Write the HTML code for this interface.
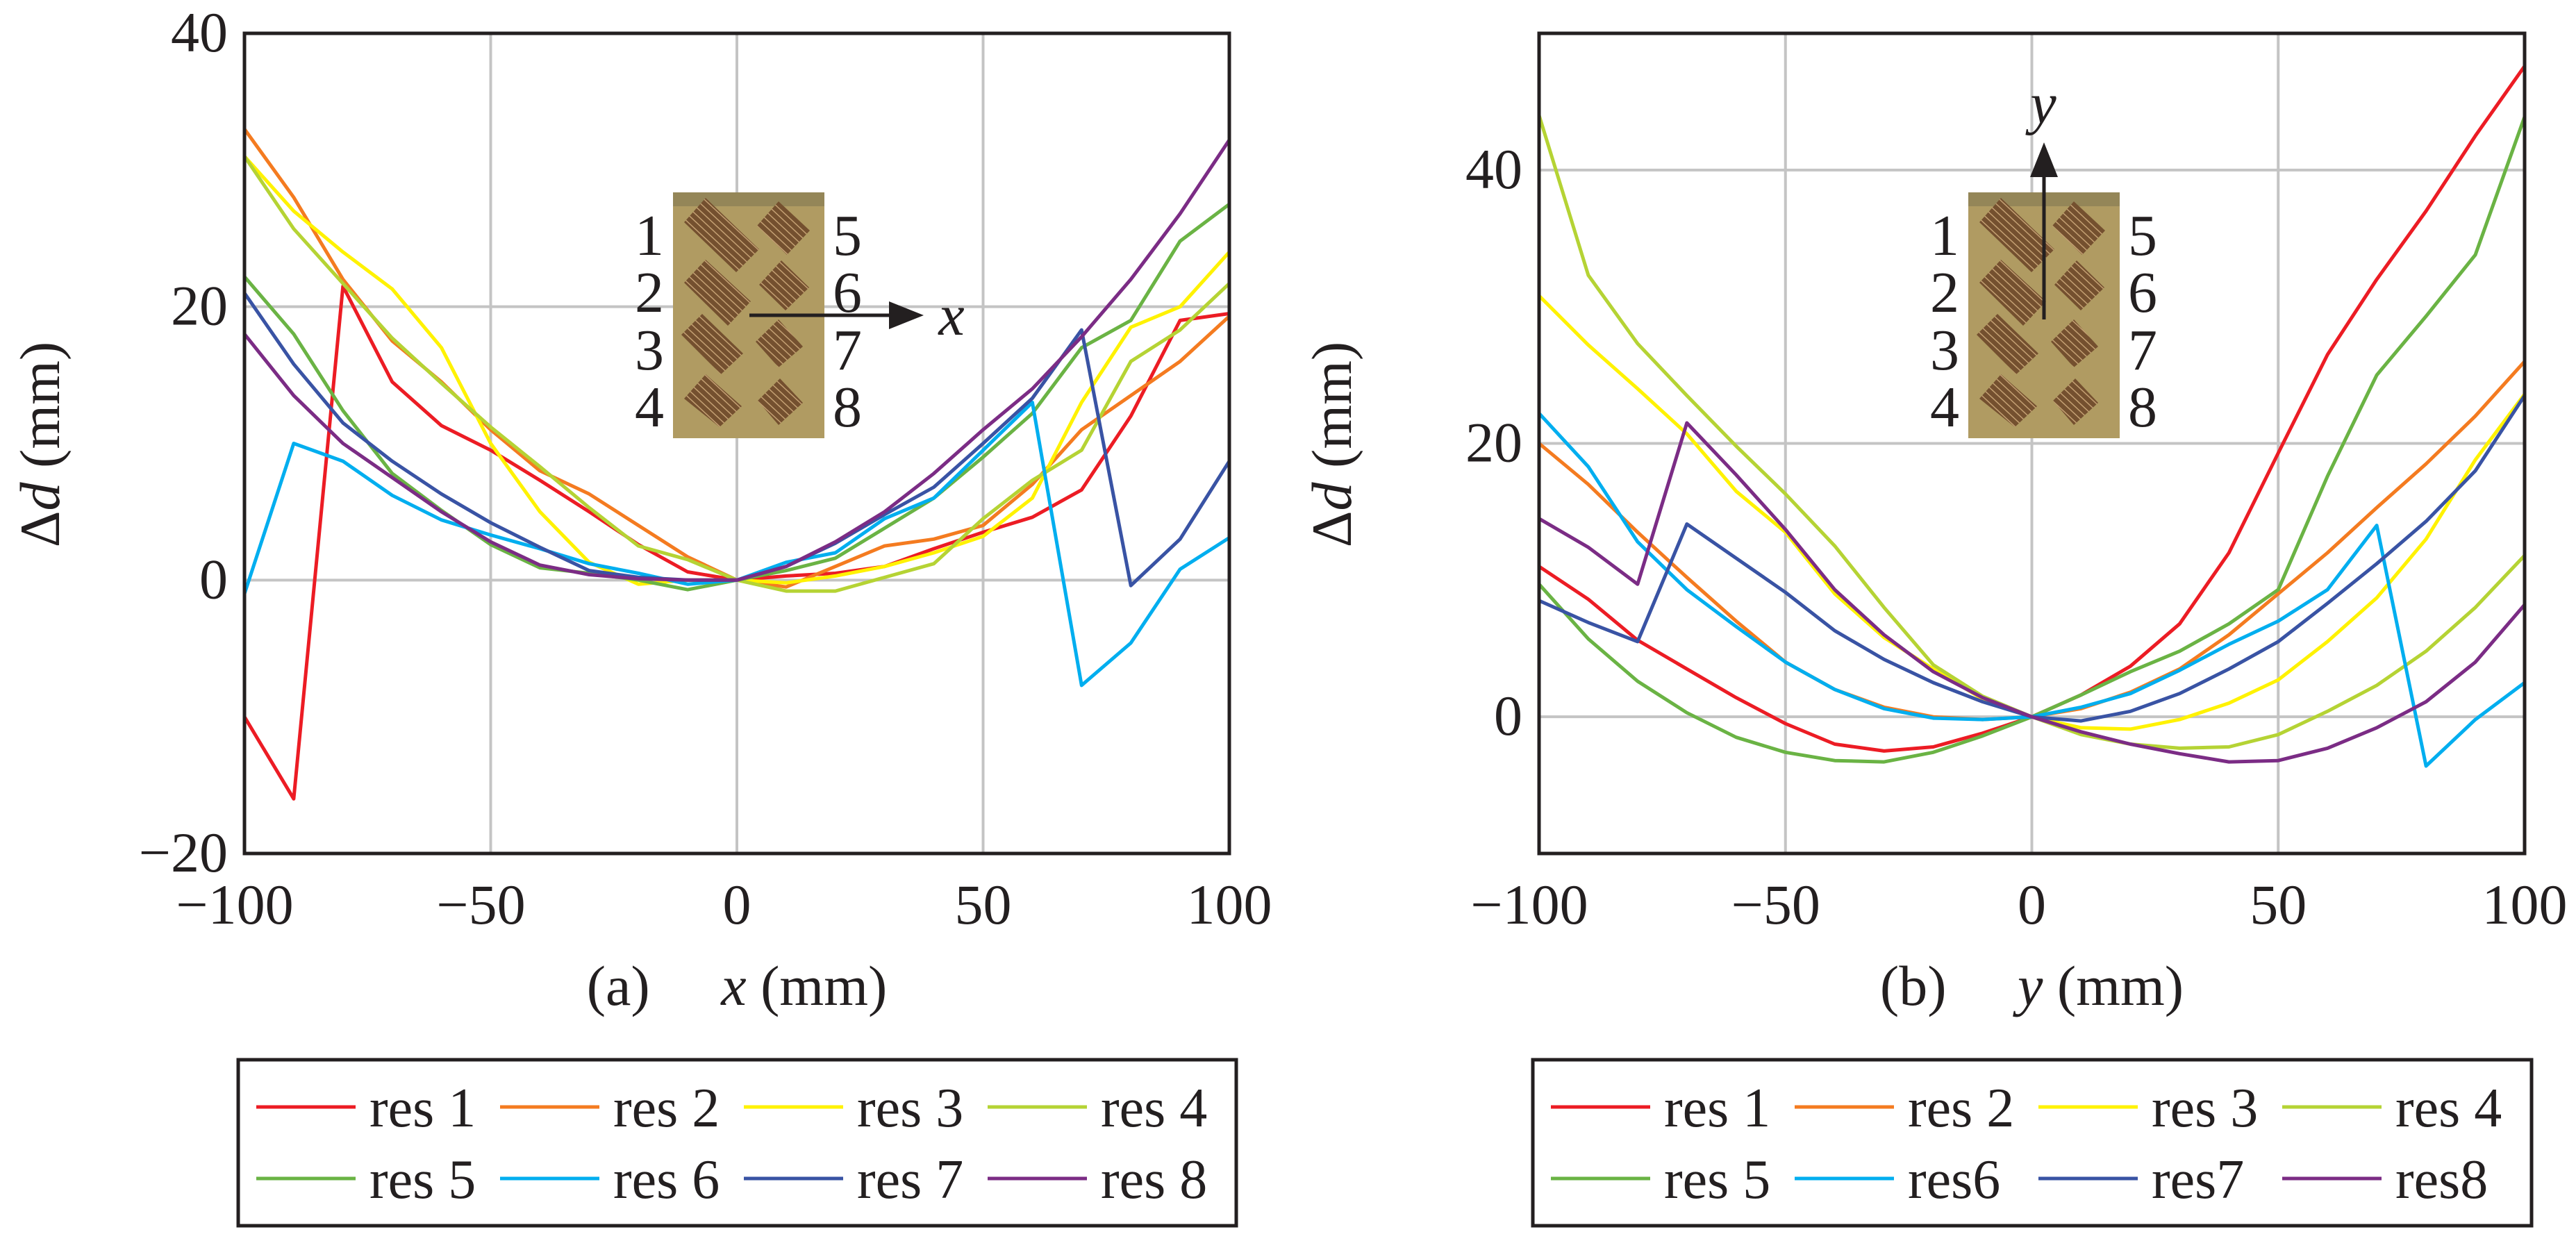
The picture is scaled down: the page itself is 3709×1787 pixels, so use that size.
<!DOCTYPE html>
<html><head><meta charset="utf-8">
<style>
html,body{margin:0;padding:0;background:#fff;}
svg{display:block;font-family:"Liberation Serif","DejaVu Serif",serif;}
svg text{font-family:"Liberation Serif","DejaVu Serif",serif;}
</style></head>
<body>
<svg id="fig" width="3709" height="1787" viewBox="0 0 3709 1787" xmlns="http://www.w3.org/2000/svg">
<defs>
<pattern id="stripes" patternUnits="userSpaceOnUse" width="8" height="8" patternTransform="rotate(43)">
<rect width="8" height="8" fill="#74502f"/>
<rect x="0" y="0" width="8" height="1.4" fill="#c9a577"/>
</pattern>
<marker id="arrowhead" markerWidth="10" markerHeight="8" refX="2" refY="4" orient="auto" markerUnits="strokeWidth"><path d="M0,0 L10,4 L0,8 z" fill="#231f20"/></marker>
</defs>
<g id="root" font-family="Liberation Serif, DejaVu Serif, serif"></g>
</svg>
<script>
const xCats = [-100,-90,-80,-70,-60,-50,-40,-30,-20,-10,0,10,20,30,40,50,60,70,80,90,100];
const seriesNames = ["res 1","res 2","res 3","res 4","res 5","res 6","res 7","res 8"];
const seriesNamesB = ["res 1","res 2","res 3","res 4","res 5","res6","res7","res8"];
const colors = ["#ec1c24","#f47b20","#fff200","#b5d334","#6ab344","#00aeef","#3953a4","#7b2c85"];
const xTicks = [-100,-50,0,50,100];
const yTicksA = [-20,0,20,40];
const yTicksB = [0,20,40];
const a1 = [-10,-16,21.5,14.5,11.3,9.5,7.3,5,2.6,0.6,0,0.3,0.5,1,2.3,3.5,4.6,6.6,12,19,19.5];
const a2 = [33,28,22,17.5,14.5,11,8,6.3,4,1.7,0,-0.5,1,2.5,3,4,7,11,13.5,16,19.3];
const a3 = [31,27,24,21.3,17,10,5,1.3,-0.3,0,0,-0.2,0.3,1,2,3.2,6,13,18.5,20,24];
const a4 = [31,25.7,21.7,17.7,14.4,11.2,8.3,5.3,2.5,1.5,0,-0.8,-0.8,0.2,1.2,4.5,7.3,9.5,16,18.3,21.7];
const a5 = [22.2,18,12.4,7.8,5.1,2.6,0.9,0.5,0,-0.7,0,0.7,1.6,3.8,6,9,12.2,17,19,24.8,27.5];
const a6 = [-1,10,8.7,6.2,4.4,3.3,2.3,1.2,0.5,-0.3,0,1.3,2,4.5,6,9.5,13,-7.7,-4.6,0.8,3.1];
const a7 = [21,15.8,11.5,8.7,6.3,4.2,2.4,0.7,0.2,0,0,1,2.7,4.8,6.8,10,13.3,18.3,-0.4,3,8.7];
const a8 = [18,13.5,10,7.5,5,2.8,1.1,0.4,0.1,0,0,1,2.8,5,7.8,11,14,17.8,22,26.8,32.2];
const b1 = [11,8.6,5.6,3.5,1.4,-0.5,-2,-2.5,-2.2,-1.2,0,1.6,3.7,6.8,12,19.3,26.5,32,37,42.5,47.6];
const b2 = [20,17,13.5,10.2,7,4,2,0.7,0,-0.2,0,0.6,1.8,3.5,6,9,12,15.3,18.5,22,26];
const b3 = [30.8,27.2,24,20.7,16.5,13.5,9,5.8,3.5,1.3,0,-0.8,-0.9,-0.2,1,2.7,5.5,8.7,13,18.8,23.6];
const b4 = [44,32.3,27.3,23.5,19.8,16.3,12.5,8,3.8,1.5,0,-1.3,-2,-2.3,-2.2,-1.3,0.4,2.3,4.8,8,11.8];
const b5 = [9.7,5.7,2.6,0.3,-1.5,-2.6,-3.2,-3.3,-2.6,-1.4,0,1.6,3.3,4.8,6.8,9.3,17.6,25,29.3,33.8,43.9];
const b6 = [22.2,18.3,12.8,9.3,6.6,4,2,0.6,-0.1,-0.2,0,0.7,1.7,3.4,5.3,7,9.3,14,-3.6,-0.2,2.5];
const b7 = [8.5,6.9,5.5,14.1,11.6,9.1,6.3,4.2,2.5,1.1,0,-0.3,0.4,1.7,3.5,5.5,8.3,11.2,14.3,18,23.5];
const b8 = [14.5,12.4,9.7,21.5,17.7,13.7,9.3,6,3.3,1.4,0,-1.1,-2,-2.7,-3.3,-3.2,-2.3,-0.8,1.1,4,8.2];
const seriesA = [a1,a2,a3,a4,a5,a6,a7,a8];
const seriesB = [b1,b2,b3,b4,b5,b6,b7,b8];

const NS = "http://www.w3.org/2000/svg";
const root = document.getElementById("root");
function mk(tag, attrs, parent, text){
  const e = document.createElementNS(NS, tag);
  for (const k in attrs) e.setAttribute(k, attrs[k]);
  if (text !== undefined) e.textContent = text;
  (parent||root).appendChild(e);
  return e;
}
const diamonds = [
 [[16,43],[47,8],[124,82],[91,115]],
 [[16,130],[47,97],[112,157],[79,192]],
 [[12,205],[42,175],[101,232],[69,262]],
 [[16,297],[47,262],[99,308],[67,338]],
 [[121,48],[152,13],[197,55],[164,90]],
 [[124,133],[156,98],[196,137],[162,170]],
 [[119,215],[152,183],[187,222],[152,252]],
 [[122,300],[154,268],[187,303],[152,335]]
];

function chart(cfg){
  const g = mk("g", {});
  
  
  const L=cfg.left, R=cfg.right, T=48, B=1229;
  const sx = v => L + (v - (-100)) / 200 * (R - L);
  const sy = v => B - (v - cfg.ymin) / (cfg.ymax - cfg.ymin) * (B - T);
  const grid = mk("g", {stroke:"#c4c4c4","stroke-width":4}, g);
  
  
  xTicks.forEach(t => mk("line",{x1:sx(t),x2:sx(t),y1:T,y2:B},grid));
  cfg.yTicks.forEach(t => mk("line",{x1:L,x2:R,y1:sy(t),y2:sy(t)},grid));
  const ph = mk("g", {transform:`translate(${cfg.photoX},277)`}, g);
  
  
  mk("rect",{x:0,y:0,width:218,height:354,fill:"#b09b62"},ph);
  mk("rect",{x:0,y:0,width:218,height:20,fill:"#7d7450",opacity:0.55},ph);
  diamonds.forEach(d => {
    const p = mk("polygon",{points:d.map(q=>q.join(",")).join(" "),fill:"url(#stripes)"},ph);
    
    
  });
  const rowsY=[367,449,532,614];
  for(let i=0;i<4;i++){
    const t1 = mk("text",{x:cfg.photoX-34,y:rowsY[i],"font-size":84,"text-anchor":"middle",fill:"#231f20"},g,String(i+1));
    
    
    const t2 = mk("text",{x:cfg.photoX+251,y:rowsY[i],"font-size":84,"text-anchor":"middle",fill:"#231f20"},g,String(i+5));
    
    
  }
  const ar = mk("line",Object.assign({stroke:"#231f20","stroke-width":5,"marker-end":"url(#arrowhead)"},cfg.arrow),g);
  
  
  const al = mk("text",{x:cfg.arrowLabel[0],y:cfg.arrowLabel[1],"font-size":84,"font-style":"italic","text-anchor":"middle",fill:"#231f20"},g,cfg.axisVar);
  
  
  const sg = mk("g",{fill:"none","stroke-width":5,"stroke-linejoin":"round"},g);
  cfg.series.forEach((s,i) => {
    const d = s.map((v,j)=>(j?"L":"M")+sx(xCats[j]).toFixed(1)+","+sy(v).toFixed(1)).join(" ");
    const p = mk("path",{d:d,stroke:colors[i]},sg);
    
    
  });
  const fr = mk("rect",{x:L,y:T,width:R-L,height:B-T,fill:"none",stroke:"#231f20","stroke-width":5},g);
  
  
  xTicks.forEach(t => {
    const lbl = (t<0?"\u2212":"")+Math.abs(t);
    const e = mk("text",{x:sx(t)+(t<0?-14:0),y:1330,"font-size":82,"text-anchor":"middle",fill:"#231f20"},g,lbl);
    
    
  });
  cfg.yTicks.forEach(t => {
    const lbl = (t<0?"\u2212":"")+Math.abs(t);
    const e = mk("text",{x:L-24,y:sy(t)+26,"font-size":82,"text-anchor":"end",fill:"#231f20"},g,lbl);
    
    
  });
  const xt = mk("text",{x:(L+R)/2,y:1447,"font-size":82,"text-anchor":"middle",fill:"#231f20"},g);
  
  
  mk("tspan",{},xt,cfg.panel+"\u2003 ");
  mk("tspan",{"font-style":"italic"},xt,cfg.axisVar);
  mk("tspan",{},xt," (mm)");
  const yt = mk("text",{transform:`translate(${cfg.ytX},640) rotate(-90)`,"font-size":82,"text-anchor":"middle",fill:"#231f20"},g);
  
  
  mk("tspan",{},yt,"\u0394");
  mk("tspan",{"font-style":"italic"},yt,"d");
  mk("tspan",{},yt," (mm)");
  const lg = mk("g",{},g);
  
  
  const LL = L-9, LR = R+10;
  mk("rect",{x:LL,y:1526,width:LR-LL,height:239,fill:"#fff",stroke:"#231f20","stroke-width":5},lg);
  cfg.names.forEach((n,i)=>{
    const col=i%4,row=Math.floor(i/4);
    const x0 = LL+26+col*351, y0 = 1594+row*103;
    const e = mk("g",{},lg);
    
    
    mk("line",{x1:x0,x2:x0+143,y1:y0,y2:y0,stroke:colors[i],"stroke-width":5},e);
    mk("text",{x:x0+163,y:y0+28,"font-size":80,fill:"#231f20"},e,n);
  });
}
chart({name:"chart-a",left:352,right:1770,ymin:-20,ymax:40,yTicks:yTicksA,series:seriesA,names:seriesNames,
  photoX:969,arrow:{x1:1079,y1:454,x2:1290,y2:454},arrowLabel:[1370,482],axisVar:"x",panel:"(a)",ytX:85});
chart({name:"chart-b",left:2216,right:3635,ymin:-10,ymax:50,yTicks:yTicksB,series:seriesB,names:seriesNamesB,
  photoX:2834,arrow:{x1:2943,y1:460,x2:2943,y2:245},arrowLabel:[2942,177],axisVar:"y",panel:"(b)",ytX:1945});
</script>
</body></html>
